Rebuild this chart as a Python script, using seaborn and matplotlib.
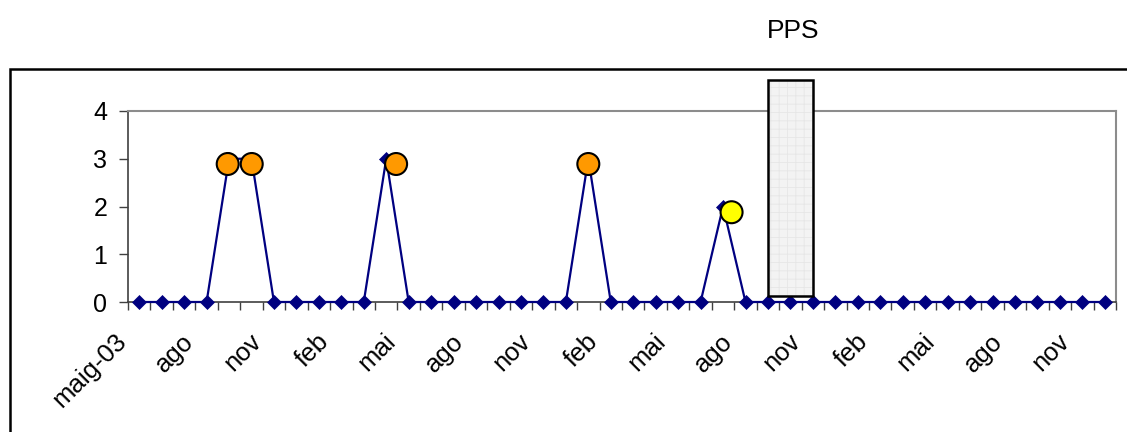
import numpy as np
import pandas as pd
import matplotlib
matplotlib.use("Agg")
import matplotlib.pyplot as plt
import seaborn as sns
from matplotlib.patches import Rectangle
from matplotlib.transforms import ScaledTranslation

# ---------------- data ----------------
months = list(range(44))  # maig-03 .. des-06
values = [0, 0, 0, 0, 3, 3, 0, 0, 0, 0,
          0, 3, 0, 0, 0, 0, 0, 0, 0, 0,
          3, 0, 0, 0, 0, 0, 2, 0, 0, 0,
          0, 0, 0, 0, 0, 0, 0, 0, 0, 0,
          0, 0, 0, 0]
label_positions = list(range(0, 44, 3))
tick_labels = ["maig-03", "ago", "nov", "feb", "mai", "ago", "nov", "feb",
               "mai", "ago", "nov", "feb", "mai", "ago", "nov"]
circle_x = [3.94, 5.01, 11.44, 20.0, 26.38]
circle_y = [2.89, 2.89, 2.89, 2.89, 1.88]
circle_kind = ["orange", "orange", "orange", "orange", "yellow"]
pps_span = [28, 30]
pps_range = [0.13, 4.65]
pps_label = "PPS"
yticks = [0, 1, 2, 3, 4]

df = pd.DataFrame({"month": months, "value": values})
cdf = pd.DataFrame({"x": circle_x, "y": circle_y, "kind": circle_kind})

# ---------------- style ----------------
sns.set_theme(style="white")
plt.rcParams["font.family"] = ["Liberation Sans", "DejaVu Sans"]
plt.rcParams["hatch.linewidth"] = 0.6
plt.rcParams["text.color"] = "black"
plt.rcParams["xtick.color"] = "black"
plt.rcParams["ytick.color"] = "black"

W, H = 1127, 432
fig = plt.figure(figsize=(W / 100, H / 100), dpi=100)
ax = fig.add_axes([128 / W, 1 - 302 / H, 988 / W, 191 / H])

navy = "#000080"
sns.lineplot(data=df, x="month", y="value", ax=ax, color=navy, linewidth=1.6,
             marker="D", markersize=7.6, markeredgecolor=navy,
             markeredgewidth=0.5, zorder=3)
for ln in ax.lines:
    ln.set_clip_on(False)

sns.scatterplot(data=cdf, x="x", y="y", hue="kind",
                palette={"orange": "#FF9900", "yellow": "#FFFF00"},
                s=250, edgecolor="black", linewidth=1.5, legend=False,
                ax=ax, zorder=5, clip_on=False)

ax.set_xlim(-0.5, len(months) - 0.5)
ax.set_ylim(0, 4)
ax.set_xlabel("")
ax.set_ylabel("")

# x ticks: marks at category boundaries, labels at category centres
ax.set_xticks(np.arange(len(months) + 1) - 0.5)
ax.set_xticklabels([])
ax.set_xticks(label_positions, minor=True)
ax.set_xticklabels(tick_labels, minor=True, rotation=45, ha="right",
                   va="top", rotation_mode="anchor", fontsize=18.5,
                   color="black")
ax.tick_params(axis="x", which="major", direction="out", length=6,
               width=1, color="#404040", bottom=True)
ax.tick_params(axis="x", which="minor", length=0, pad=19.5, bottom=True)
for lab in ax.get_xticklabels(minor=True):
    lab.set_transform(lab.get_transform() +
                      ScaledTranslation(-25 / 100, 0, fig.dpi_scale_trans))

ax.set_yticks(yticks)
ax.set_yticklabels([str(v) for v in yticks], fontsize=18, color="black")
ax.tick_params(axis="y", direction="out", length=6.5, width=1,
               color="#404040", pad=8.5, left=True)

for side in ["left", "bottom"]:
    ax.spines[side].set_color("#404040")
    ax.spines[side].set_linewidth(1.2)
for side in ["top", "right"]:
    ax.spines[side].set_color("#8c8c8c")
    ax.spines[side].set_linewidth(1.5)

# PPS box
bx, by = pps_span[0], pps_range[0]
bw, bh = pps_span[1] - pps_span[0], pps_range[1] - pps_range[0]
ax.add_patch(Rectangle((bx, by), bw, bh, facecolor="#f3f3f3",
                       edgecolor="none", clip_on=False, zorder=4))
ax.add_patch(Rectangle((bx, by), bw, bh, facecolor="none", hatch="++",
                       edgecolor="#e6e6e6", linewidth=0, clip_on=False,
                       zorder=4.1))
ax.add_patch(Rectangle((bx, by), bw, bh, fill=False, edgecolor="black",
                       linewidth=1.8, clip_on=False, zorder=4.2))
ax.text((pps_span[0] + pps_span[1]) / 2 + 0.1, 5.52, pps_label,
        ha="center", va="baseline", fontsize=19, clip_on=False,
        color="black")

# outer chart-area border
fig.add_artist(Rectangle((10 / W, -0.1), 1.2, (1 - 69 / H) + 0.1,
                         transform=fig.transFigure, fill=False,
                         edgecolor="black", linewidth=1.8))

fig.savefig("out.png", dpi=100)
